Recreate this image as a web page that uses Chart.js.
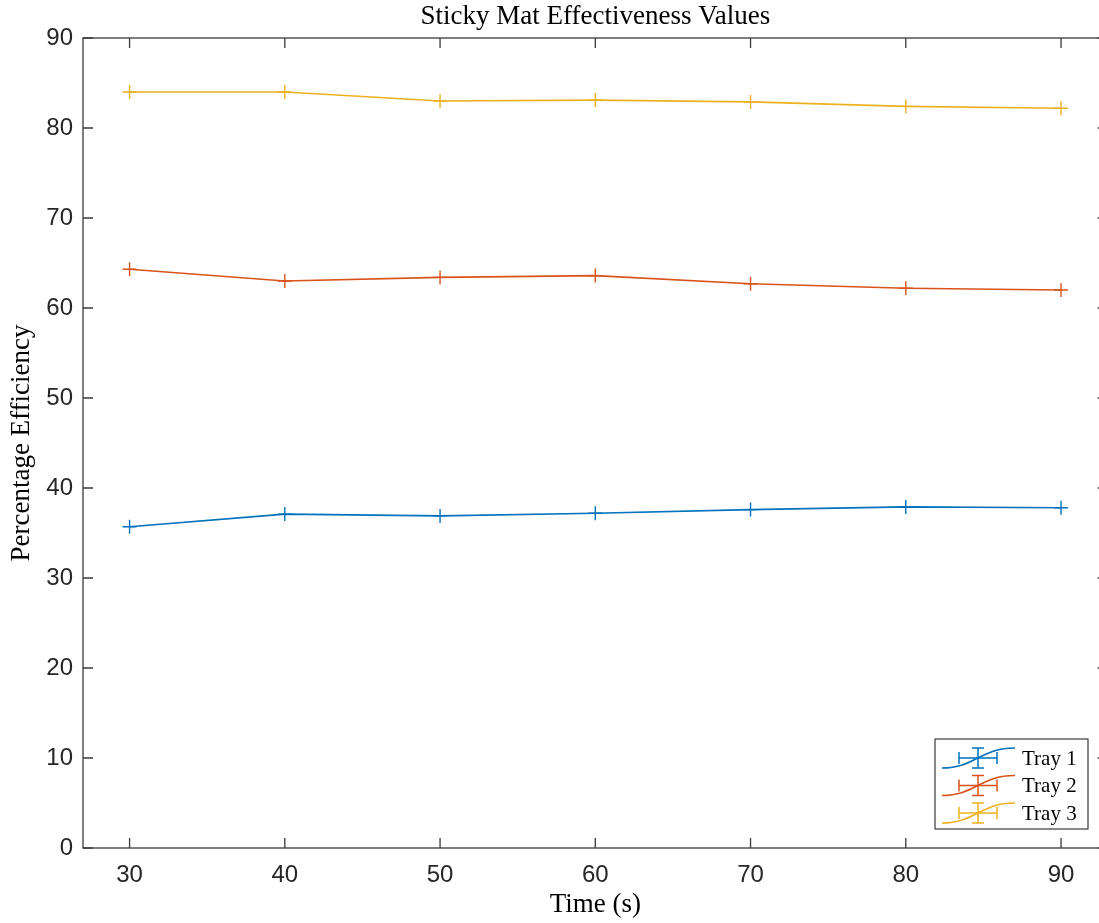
<!DOCTYPE html>
<html>
<head>
<meta charset="utf-8">
<script src="https://cdn.jsdelivr.net/npm/chart.js@4.4.0/dist/chart.umd.min.js"></script>
<style>
    html, body { margin: 0; padding: 0; background: #fff; overflow: hidden; }
    #wrap { width: 1099px; height: 923px; overflow: hidden; }
</style>
</head>
<body>
<div id="wrap"><canvas id="effChart" width="1116" height="923"></canvas></div>
<script>
// time points (s) and tray efficiencies (%)
const times = [30, 40, 50, 60, 70, 80, 90];
const tray1 = [35.7, 37.1, 36.9, 37.2, 37.6, 37.9, 37.8];
const tray2 = [64.3, 63.0, 63.4, 63.6, 62.7, 62.2, 62.0];
const tray3 = [84.0, 84.0, 83.0, 83.1, 82.9, 82.4, 82.2];
const seriesNames = ['Tray 1', 'Tray 2', 'Tray 3'];
const xTicks = [30, 40, 50, 60, 70, 80, 90];
const yTicks = [0, 10, 20, 30, 40, 50, 60, 70, 80, 90];

const colors = ['#0072BD', '#D95319', '#EDB120'];
const axisColor = '#3a3a3a';
const tickFont = { family: 'Liberation Sans, Arial, sans-serif', size: 24 };
const serifFont = 'Liberation Serif, Times New Roman, serif';

const toPoints = vals => times.map((t, i) => ({ x: t, y: vals[i] }));

// MATLAB style box with inward ticks
const boxPlugin = {
    id: 'boxTicks',
    afterDatasetsDraw(chart) {
        const { ctx, chartArea: a, scales } = chart;
        const len = 10;
        ctx.save();
        ctx.strokeStyle = axisColor;
        ctx.lineWidth = 1.3;
        ctx.strokeRect(a.left, a.top, a.right - a.left, a.bottom - a.top);
        ctx.beginPath();
        xTicks.forEach(v => {
            const px = scales.x.getPixelForValue(v);
            ctx.moveTo(px, a.bottom); ctx.lineTo(px, a.bottom - len);
            ctx.moveTo(px, a.top); ctx.lineTo(px, a.top + len);
        });
        yTicks.forEach(v => {
            const py = scales.y.getPixelForValue(v);
            ctx.moveTo(a.left, py); ctx.lineTo(a.left + len, py);
            ctx.moveTo(a.right, py); ctx.lineTo(a.right - len, py);
        });
        ctx.stroke();
        ctx.restore();
    }
};

// legend box with errorbar-style icons
const legendPlugin = {
    id: 'matLegend',
    afterDraw(chart) {
        const { ctx } = chart;
        const bx = 935, by = 739, bw = 153, bh = 90;
        ctx.save();
        ctx.fillStyle = '#fff';
        ctx.fillRect(bx, by, bw, bh);
        ctx.strokeStyle = axisColor;
        ctx.lineWidth = 1.2;
        ctx.strokeRect(bx, by, bw, bh);
        seriesNames.forEach((name, i) => {
            const cy = 758 + i * 27.5;
            ctx.strokeStyle = colors[i];
            ctx.lineWidth = 1.5;
            ctx.beginPath();
            ctx.moveTo(942, cy + 10);
            ctx.bezierCurveTo(975, cy + 10, 980, cy - 10, 1015, cy - 10);
            ctx.stroke();
            ctx.beginPath();
            ctx.moveTo(959, cy); ctx.lineTo(997, cy);
            ctx.moveTo(959, cy - 6); ctx.lineTo(959, cy + 6);
            ctx.moveTo(997, cy - 6); ctx.lineTo(997, cy + 6);
            ctx.moveTo(978, cy - 10); ctx.lineTo(978, cy + 10);
            ctx.moveTo(972, cy - 10); ctx.lineTo(984, cy - 10);
            ctx.moveTo(972, cy + 10); ctx.lineTo(984, cy + 10);
            ctx.stroke();
            ctx.fillStyle = '#000';
            ctx.font = '21px ' + serifFont;
            ctx.textBaseline = 'middle';
            ctx.fillText(name, 1022, cy + 1);
        });
        ctx.restore();
    }
};

const mk = (label, vals, i) => ({
    label,
    data: toPoints(vals),
    borderColor: colors[i],
    backgroundColor: colors[i],
    borderWidth: 1.6,
    pointStyle: 'cross',
    pointRadius: 7,
    pointBorderWidth: 1.4,
    pointHoverRadius: 7,
    tension: 0
});

new Chart(document.getElementById('effChart'), {
    type: 'line',
    data: {
        datasets: [mk(seriesNames[0], tray1, 0), mk(seriesNames[1], tray2, 1), mk(seriesNames[2], tray3, 2)]
    },
    options: {
        responsive: false,
        animation: false,
        layout: { padding: { left: 0, right: 3, top: 0, bottom: 0 } },
        plugins: {
            legend: { display: false },
            tooltip: { enabled: false },
            title: {
                display: true,
                fullSize: false,
                text: 'Sticky Mat Effectiveness Values',
                color: '#000',
                font: { family: serifFont, size: 27, weight: 'normal', lineHeight: 1.2 },
                padding: { top: 1, bottom: 4.6 }
            }
        },
        scales: {
            x: {
                type: 'linear',
                min: 27,
                max: 93,
                grid: { display: false, drawTicks: false },
                border: { display: false },
                afterBuildTicks: s => { s.ticks = xTicks.map(v => ({ value: v })); },
                afterFit: s => { s.height = 75; },
                ticks: { color: '#262626', font: tickFont, padding: 13, maxRotation: 0 },
                title: {
                    display: true,
                    text: 'Time (s)',
                    color: '#000',
                    font: { family: serifFont, size: 27 },
                    padding: { top: 0, bottom: 2 }
                }
            },
            y: {
                min: 0,
                max: 90,
                grid: { display: false, drawTicks: false },
                border: { display: false },
                afterBuildTicks: s => { s.ticks = yTicks.map(v => ({ value: v })); },
                afterFit: s => { s.width = 83; },
                ticks: { color: '#262626', font: tickFont, padding: 10 },
                title: {
                    display: true,
                    text: 'Percentage Efficiency',
                    color: '#000',
                    font: { family: serifFont, size: 27 },
                    padding: { top: 6, bottom: 0 }
                }
            }
        }
    },
    plugins: [boxPlugin, legendPlugin]
});
</script>
</body>
</html>
